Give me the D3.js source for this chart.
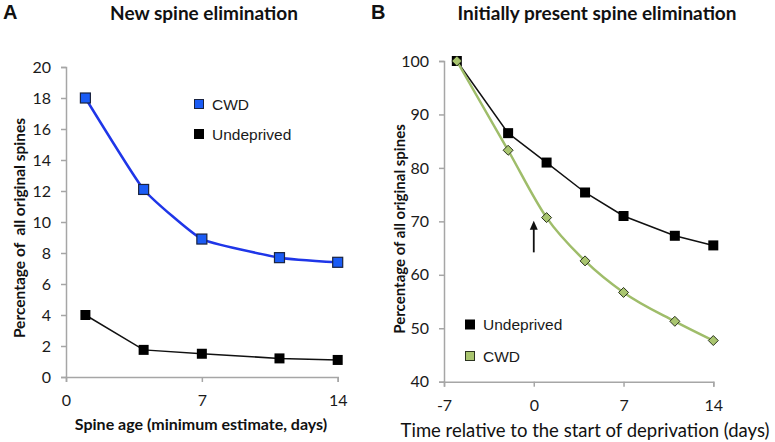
<!DOCTYPE html>
<html><head><meta charset="utf-8">
<script src="https://cdn.jsdelivr.net/npm/d3@7"></script>
<style>body{margin:0;background:#fff}svg{display:block}</style>
</head><body>
<svg id="c" width="775" height="442"></svg>
<script>
// Panel A data
const daysA = [1, 4, 7, 11, 14];
const cwdA = [18.0, 12.1, 8.9, 7.7, 7.4];
const undepA = [4.0, 1.75, 1.5, 1.2, 1.1];
const yTicksA = [0, 2, 4, 6, 8, 10, 12, 14, 16, 18, 20];
const xTicksA = [0, 7, 14];
// Panel B data
const daysB = [-6, -2, 1, 4, 7, 11, 14];
const undepB = [100, 86.5, 81.0, 75.4, 71.0, 67.3, 65.5];
const cwdB = [100, 83.3, 70.7, 62.6, 56.7, 51.3, 47.7];
const yTicksB = [40, 50, 60, 70, 80, 90, 100];
const xTicksB = [-7, 0, 7, 14];
const arrowB = {x: 0, from: 64.2, to: 70.1};

const svg = d3.select("#c");
const axisCol = "#a6a6a6";
const tickFont = "Lato, 'Open Sans', sans-serif";
const fmt = d => String(d);

function drawAxes(g, x, y, xt, yt, tickSize) {
  const ya = g.append("g").attr("transform", `translate(${x.range()[0]},0)`)
    .call(d3.axisLeft(y).tickValues(yt).tickSize(5).tickPadding(10).tickFormat(fmt));
  const xa = g.append("g").attr("transform", `translate(0,${y.range()[0]})`)
    .call(d3.axisBottom(x).tickValues(xt).tickSize(5).tickPadding(13).tickFormat(fmt));
  [ya, xa].forEach(a => {
    a.select(".domain").attr("stroke", axisCol).attr("stroke-width", 1.5);
    a.selectAll(".tick line").attr("stroke", axisCol).attr("stroke-width", 1.5);
    a.selectAll("text").attr("font-family", tickFont).attr("font-size", tickSize).attr("fill", "#1a1a1a");
  });
}

// ---------- Panel A ----------
const xA = d3.scaleLinear().domain([0, 14]).range([66, 337.7]);
const yA = d3.scaleLinear().domain([0, 20]).range([377, 67]);
const gA = svg.append("g");
drawAxes(gA, xA, yA, xTicksA, yTicksA, 16);

const lineSmoothA = d3.line().x((d, i) => xA(daysA[i])).y(d => yA(d)).curve(d3.curveCardinal.tension(0.6));
const lineStraightA = d3.line().x((d, i) => xA(daysA[i])).y(d => yA(d));
gA.append("path").attr("d", lineStraightA(undepA)).attr("fill", "none").attr("stroke", "#111").attr("stroke-width", 1.5);
gA.append("path").attr("d", lineSmoothA(cwdA)).attr("fill", "none").attr("stroke", "#1f36e8").attr("stroke-width", 2.5);
const sq = 10;
gA.selectAll(".ua").data(undepA).enter().append("rect")
  .attr("x", (d, i) => xA(daysA[i]) - sq / 2).attr("y", d => yA(d) - sq / 2)
  .attr("width", sq).attr("height", sq).attr("fill", "#000");
gA.selectAll(".ca").data(cwdA).enter().append("rect")
  .attr("x", (d, i) => xA(daysA[i]) - sq / 2).attr("y", d => yA(d) - sq / 2)
  .attr("width", sq).attr("height", sq).attr("fill", "#1b5cf5").attr("stroke", "#1a2340").attr("stroke-width", 1.2);

// Legend A
const legA = [{t: "CWD", fill: "#1b5cf5", stroke: "#1a2340"}, {t: "Undeprived", fill: "#000", stroke: "#000"}];
legA.forEach((l, i) => {
  const cy = 104 + i * 30;
  gA.append("rect").attr("x", 194.5).attr("y", cy - 4.5).attr("width", 9).attr("height", 9)
    .attr("fill", l.fill).attr("stroke", l.stroke).attr("stroke-width", 1);
  gA.append("text").attr("x", 212).attr("y", cy + 5.5).text(l.t)
    .attr("font-family", "'Liberation Sans', Arial, sans-serif").attr("font-size", 15.5).attr("fill", "#1a1a1a");
});

// ---------- Panel B ----------
const xB = d3.scaleLinear().domain([-7, 14]).range([444, 713.3]);
const yB = d3.scaleLinear().domain([40, 100]).range([381.7, 61]);
const gB = svg.append("g");
drawAxes(gB, xB, yB, xTicksB, yTicksB, 16);

const lineStraightB = d3.line().x((d, i) => xB(daysB[i])).y(d => yB(d));
const lineSmoothB = d3.line().x((d, i) => xB(daysB[i])).y(d => yB(d)).curve(d3.curveMonotoneX);
gB.append("path").attr("d", lineStraightB(undepB)).attr("fill", "none").attr("stroke", "#111").attr("stroke-width", 1.5);
gB.selectAll(".ub").data(undepB).enter().append("rect")
  .attr("x", (d, i) => xB(daysB[i]) - sq / 2).attr("y", d => yB(d) - sq / 2)
  .attr("width", sq).attr("height", sq).attr("fill", "#000");
gB.append("path").attr("d", lineSmoothB(cwdB)).attr("fill", "none").attr("stroke", "#9fbd6a").attr("stroke-width", 2.5);
const dz = 5;
gB.selectAll(".cb").data(cwdB).enter().append("path")
  .attr("d", (d, i) => {
    const cx = xB(daysB[i]), cy = yB(d);
    return `M${cx},${cy - dz}L${cx + dz},${cy}L${cx},${cy + dz}L${cx - dz},${cy}Z`;
  })
  .attr("fill", "#a9c56f").attr("stroke", "#2b3320").attr("stroke-width", 1);

// Arrow
const ax = xB(arrowB.x);
gB.append("line").attr("x1", ax).attr("x2", ax).attr("y1", yB(arrowB.from)).attr("y2", yB(arrowB.to) + 6)
  .attr("stroke", "#111").attr("stroke-width", 1.8);
gB.append("path").attr("d", `M${ax},${yB(arrowB.to)}L${ax + 4},${yB(arrowB.to) + 9}L${ax - 4},${yB(arrowB.to) + 9}Z`).attr("fill", "#111");

// Legend B
const legB = [{t: "Undeprived", fill: "#000", stroke: "#000"}, {t: "CWD", fill: "#a9c56f", stroke: "#2b3320"}];
legB.forEach((l, i) => {
  const cy = 324.5 + i * 31.5;
  gB.append("rect").attr("x", 465.5).attr("y", cy - 4.5).attr("width", 9).attr("height", 9)
    .attr("fill", l.fill).attr("stroke", l.stroke).attr("stroke-width", 1);
  gB.append("text").attr("x", 483).attr("y", cy + 5.5).text(l.t)
    .attr("font-family", "'Liberation Sans', Arial, sans-serif").attr("font-size", 15.5).attr("fill", "#1a1a1a");
});

// ---------- Texts ----------
const titleFont = "Lato, 'Open Sans', sans-serif";
svg.append("text").attr("x", 3).attr("y", 19).text("A").attr("font-family", "'Liberation Sans', Arial, sans-serif")
  .attr("font-weight", "bold").attr("font-size", 20).attr("fill", "#111");
svg.append("text").attr("x", 371).attr("y", 19).text("B").attr("font-family", "'Liberation Sans', Arial, sans-serif")
  .attr("font-weight", "bold").attr("font-size", 20).attr("fill", "#111");
svg.append("text").attr("x", 204).attr("y", 20).attr("text-anchor", "middle").text("New spine elimination")
  .attr("font-family", titleFont).attr("font-weight", "bold").attr("font-size", 19).attr("fill", "#111");
svg.append("text").attr("x", 597).attr("y", 20).attr("text-anchor", "middle").text("Initially present spine elimination")
  .attr("font-family", titleFont).attr("font-weight", "bold").attr("font-size", 19).attr("fill", "#111");

svg.append("text").attr("transform", "translate(25,228) rotate(-90)").attr("text-anchor", "middle")
  .text("Percentage of  all original spines").style("white-space", "pre")
  .attr("font-family", titleFont).attr("font-weight", "bold").attr("font-size", 15.5).attr("fill", "#111");
svg.append("text").attr("transform", "translate(405,229) rotate(-90)").attr("text-anchor", "middle")
  .text("Percentage of all original spines")
  .attr("font-family", titleFont).attr("font-weight", "bold").attr("font-size", 15).attr("fill", "#111");
svg.append("text").attr("x", 201).attr("y", 430).attr("text-anchor", "middle")
  .text("Spine age (minimum estimate, days)")
  .attr("font-family", titleFont).attr("font-weight", "bold").attr("font-size", 16).attr("fill", "#111");
svg.append("text").attr("x", 585).attr("y", 437).attr("text-anchor", "middle")
  .text("Time relative to the start of deprivation (days)")
  .attr("font-family", titleFont).attr("font-size", 18.5).attr("fill", "#111");
</script>
</body></html>
